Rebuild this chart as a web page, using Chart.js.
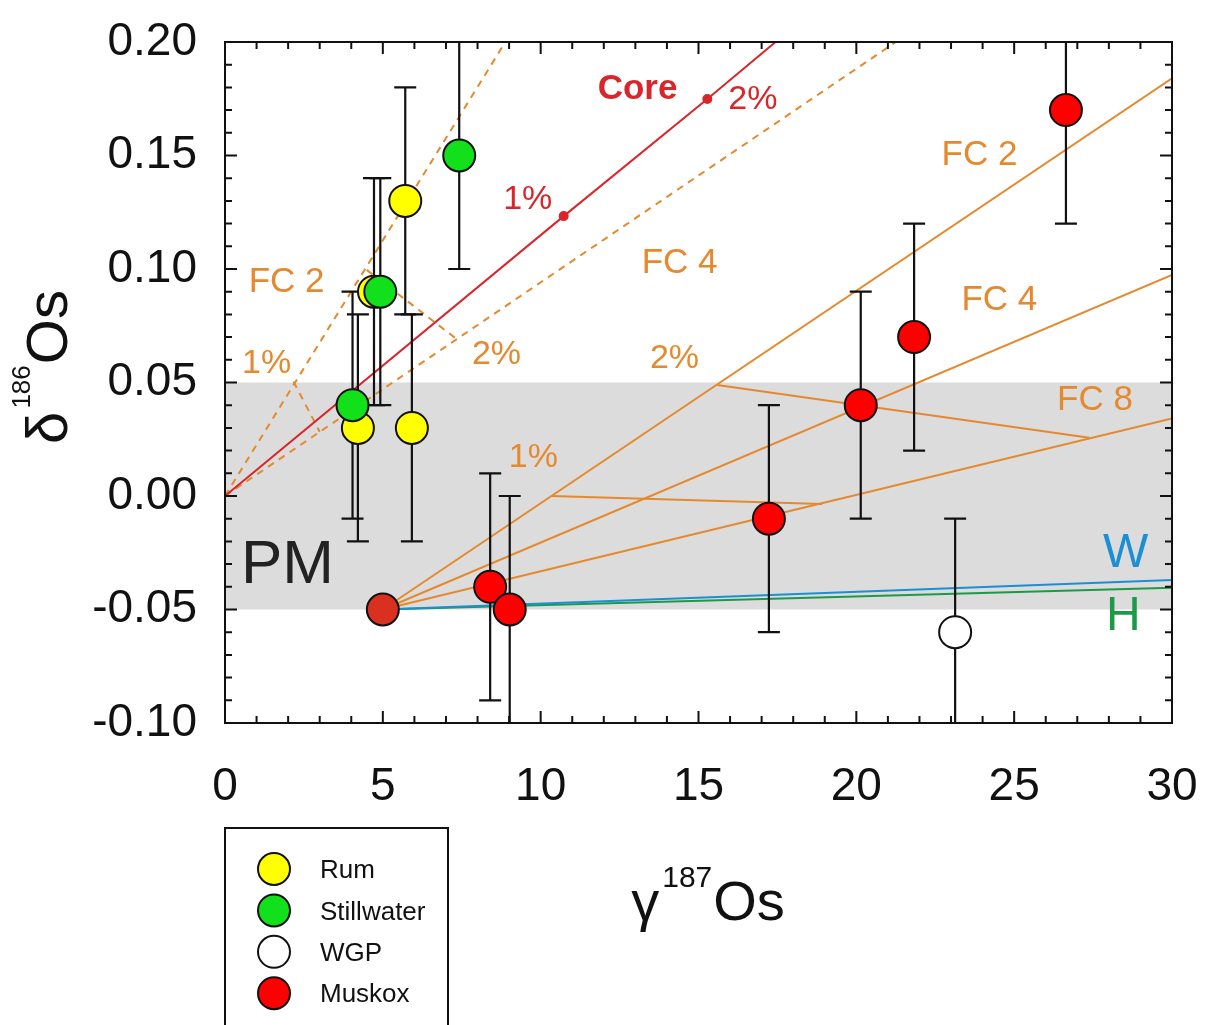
<!DOCTYPE html>
<html>
<head>
<meta charset="utf-8">
<script src="https://cdn.jsdelivr.net/npm/chart.js@4"></script>
<style>
  body { margin: 0; background: #fff; }
  canvas { display: block; }
</style>
</head>
<body>
<canvas id="osChart" width="1212" height="1025"></canvas>
<script>
// samples (gamma187Os, delta186Os), all with +-0.05 error bars
const rumX = [5.71, 5.92, 4.21, 4.72];
const rumY = [0.13, 0.03, 0.03, 0.09];
const rumErr = [0.05, 0.05, 0.05, 0.05];

const stillX = [4.04, 4.92, 7.42];
const stillY = [0.04, 0.09, 0.15];
const stillErr = [0.05, 0.05, 0.05];

const wgpX = [23.13];
const wgpY = [-0.06];
const wgpErr = [0.05];

const muskoxX = [8.40, 9.02, 17.23, 20.14, 21.83, 26.64];
const muskoxY = [-0.04, -0.05, -0.01, 0.04, 0.07, 0.17];
const muskoxErr = [0.05, 0.05, 0.05, 0.05, 0.05, 0.05];

const pmX = [5.0];
const pmY = [-0.05];

// mixing / model lines
const coreX = [0, 10.73, 15.28, 17.44];
const coreY = [0, 0.1233, 0.1749, 0.20];
const fc2DashX = [0, 8.88];
const fc2DashY = [0, 0.20];
const fc4DashX = [0, 21.25];
const fc4DashY = [0, 0.20];
const tie1DashX = [2.17, 3.0];
const tie1DashY = [0.0504, 0.0283];
const tie2DashX = [4.49, 7.35];
const tie2DashY = [0.0996, 0.069];

const fc2X = [5, 30];
const fc2Y = [-0.05, 0.184];
const fc4X = [5, 30];
const fc4Y = [-0.05, 0.0974];
const fc8X = [5, 30];
const fc8Y = [-0.05, 0.0342];
const tie2X = [15.59, 27.38];
const tie2Y = [0.0489, 0.0257];
const tie1X = [10.34, 18.92];
const tie1Y = [0.0, -0.0035];

const wX = [5, 30];
const wY = [-0.05, -0.037];
const hX = [5, 30];
const hY = [-0.05, -0.0404];

const pmBand = [-0.05, 0.05];

const xTicks = [0, 5, 10, 15, 20, 25, 30];
const yTicks = [-0.10, -0.05, 0.00, 0.05, 0.10, 0.15, 0.20];

const ORANGE = '#e5892e';
const RED = '#d8262a';
const FONT = '"Liberation Sans", Arial, sans-serif';

const pts = (xs, ys) => xs.map((v, i) => ({ x: v, y: ys[i] }));

function line(label, xs, ys, color, dash) {
  return {
    label: label,
    data: pts(xs, ys),
    showLine: true,
    borderColor: color,
    backgroundColor: color,
    borderWidth: 2,
    borderDash: dash ? [7, 6] : [],
    pointRadius: 0,
    fill: false,
    order: 10
  };
}

function points(label, xs, ys, errs, fill, order) {
  return {
    label: label,
    data: pts(xs, ys),
    errors: errs,
    backgroundColor: fill,
    borderColor: '#111',
    borderWidth: 2,
    pointRadius: 16,
    pointHoverRadius: 16,
    order: order
  };
}

const coreLine = line('Core', coreX, coreY, RED, false);
coreLine.pointRadius = [0, 4, 4, 0];

const datasets = [
  coreLine,
  line('FC 2 dashed', fc2DashX, fc2DashY, ORANGE, true),
  line('FC 4 dashed', fc4DashX, fc4DashY, ORANGE, true),
  line('1% dashed', tie1DashX, tie1DashY, ORANGE, true),
  line('2% dashed', tie2DashX, tie2DashY, ORANGE, true),
  line('FC 2', fc2X, fc2Y, ORANGE, false),
  line('FC 4', fc4X, fc4Y, ORANGE, false),
  line('FC 8', fc8X, fc8Y, ORANGE, false),
  line('2%', tie2X, tie2Y, ORANGE, false),
  line('1%', tie1X, tie1Y, ORANGE, false),
  line('W', wX, wY, '#1b8fd4', false),
  line('H', hX, hY, '#1c9a48', false),
  points('Rum', rumX, rumY, rumErr, '#ffff00', 5),
  points('Stillwater', stillX, stillY, stillErr, '#11e01a', 4),
  points('WGP', wgpX, wgpY, wgpErr, '#ffffff', 3),
  points('Muskox', muskoxX, muskoxY, muskoxErr, '#ff0000', 2),
  points('PM', pmX, pmY, null, '#d9301f', 1)
];
const legendNames = ['Rum', 'Stillwater', 'WGP', 'Muskox'];

// text labels inside the plot, in data units
const notes = [
  { t: 'Core', x: 13.07, y: 0.1793, c: RED, s: 35, b: true },
  { t: '1%', x: 9.59, y: 0.1306, c: RED, s: 34 },
  { t: '2%', x: 16.72, y: 0.1744, c: RED, s: 34 },
  { t: 'FC 2', x: 1.95, y: 0.0943, c: ORANGE, s: 35 },
  { t: '1%', x: 1.32, y: 0.0581, c: ORANGE, s: 34 },
  { t: '2%', x: 8.60, y: 0.0621, c: ORANGE, s: 34 },
  { t: 'FC 4', x: 14.40, y: 0.1026, c: ORANGE, s: 35 },
  { t: 'FC 2', x: 23.90, y: 0.1502, c: ORANGE, s: 35 },
  { t: 'FC 4', x: 24.53, y: 0.0863, c: ORANGE, s: 35 },
  { t: 'FC 8', x: 27.56, y: 0.0423, c: ORANGE, s: 35 },
  { t: '2%', x: 14.24, y: 0.0604, c: ORANGE, s: 34 },
  { t: '1%', x: 9.77, y: 0.0167, c: ORANGE, s: 34 },
  { t: 'W', x: 28.53, y: -0.0256, c: '#1b8fd4', s: 48 },
  { t: 'H', x: 28.46, y: -0.0533, c: '#1c9a48', s: 48 },
  { t: 'PM', x: 1.98, y: -0.0308, c: '#222', s: 62 }
];

// keep tick labels from pushing the plot box around
function noOverflow(s) {
  s.paddingTop = 0;
  s.paddingBottom = 0;
  s.paddingLeft = 0;
  s.paddingRight = 0;
}

const decor = {
  id: 'decor',
  beforeDatasetsDraw(chart) {
    const { ctx, chartArea: a, scales: { y } } = chart;
    const top = y.getPixelForValue(pmBand[1]);
    const bot = y.getPixelForValue(pmBand[0]);
    ctx.save();
    ctx.fillStyle = '#dcdcdc';
    ctx.fillRect(a.left, top, a.right - a.left, bot - top);
    ctx.restore();
  },
  beforeDatasetDraw(chart, args) {
    if (chart.data.datasets[args.index].label !== 'Rum') return;
    const { ctx, chartArea: a, scales: { x, y } } = chart;
    ctx.save();
    ctx.beginPath();
    ctx.rect(a.left, a.top, a.right - a.left, a.bottom - a.top);
    ctx.clip();
    ctx.strokeStyle = '#111';
    ctx.lineWidth = 2.2;
    chart.data.datasets.forEach(ds => {
      if (!ds.errors) return;
      ds.data.forEach((p, i) => {
        const e = ds.errors[i];
        const cx = x.getPixelForValue(p.x);
        const y1 = y.getPixelForValue(p.y + e);
        const y2 = y.getPixelForValue(p.y - e);
        ctx.beginPath();
        ctx.moveTo(cx, y1); ctx.lineTo(cx, y2);
        ctx.moveTo(cx - 11, y1); ctx.lineTo(cx + 11, y1);
        ctx.moveTo(cx - 11, y2); ctx.lineTo(cx + 11, y2);
        ctx.stroke();
      });
    });
    ctx.restore();
  },
  afterDatasetsDraw(chart) {
    const { ctx, chartArea: a, scales: { x, y } } = chart;
    ctx.save();
    ctx.strokeStyle = '#111';
    ctx.lineWidth = 2;
    ctx.strokeRect(a.left, a.top, a.right - a.left, a.bottom - a.top);
    ctx.beginPath();
    for (let i = 0; i <= 30; i++) {
      const px = x.getPixelForValue(i);
      const len = i % 5 === 0 ? 12 : 7;
      ctx.moveTo(px, a.bottom); ctx.lineTo(px, a.bottom - len);
      ctx.moveTo(px, a.top); ctx.lineTo(px, a.top + len);
    }
    for (let j = -10; j <= 20; j++) {
      const py = y.getPixelForValue(j / 100);
      const len = j % 5 === 0 ? 12 : 7;
      ctx.moveTo(a.left, py); ctx.lineTo(a.left + len, py);
      ctx.moveTo(a.right, py); ctx.lineTo(a.right - len, py);
    }
    ctx.stroke();
    ctx.restore();
  },
  afterDraw(chart) {
    const { ctx, scales: { x, y } } = chart;
    ctx.save();
    ctx.textAlign = 'center';
    ctx.textBaseline = 'middle';
    notes.forEach(n => {
      ctx.font = (n.b ? 'bold ' : '') + n.s + 'px ' + FONT;
      ctx.fillStyle = n.c;
      ctx.fillText(n.t, x.getPixelForValue(n.x), y.getPixelForValue(n.y));
    });

    // axis titles with superscripts
    ctx.fillStyle = '#111';
    ctx.textAlign = 'left';
    ctx.textBaseline = 'alphabetic';
    const big = '56px ' + FONT, sup = '30px ' + FONT;
    ctx.font = big; const wg = ctx.measureText('γ').width; const wo = ctx.measureText('Os').width;
    ctx.font = sup; const w7 = ctx.measureText('187').width;
    let sx = 708 - (wg + w7 + wo + 4) / 2;
    ctx.font = big; ctx.fillText('γ', sx, 920); sx += wg + 3;
    ctx.font = sup; ctx.fillText('187', sx, 887); sx += w7 + 1;
    ctx.font = big; ctx.fillText('Os', sx, 920);

    ctx.translate(67, 367);
    ctx.rotate(-Math.PI / 2);
    const bigY = '58px ' + FONT, supY = '26px ' + FONT;
    ctx.font = bigY; const wd = ctx.measureText('δ').width; const wo2 = ctx.measureText('Os').width;
    ctx.font = supY; const w6 = ctx.measureText('186').width;
    let sy = -(wd + w6 + wo2 + 4) / 2;
    ctx.font = bigY; ctx.fillText('δ', sy, 0); sy += wd + 3;
    ctx.font = supY; ctx.fillText('186', sy, -37); sy += w6 + 1;
    ctx.font = bigY; ctx.fillText('Os', sy, 0);
    ctx.setTransform(1, 0, 0, 1, 0, 0);

    // legend box
    ctx.strokeStyle = '#111';
    ctx.lineWidth = 2;
    ctx.strokeRect(225, 828, 223, 210);
    ctx.font = '26px ' + FONT;
    ctx.textBaseline = 'middle';
    legendNames.forEach((name, i) => {
      const ds = chart.data.datasets.find(d => d.label === name);
      const cy = 869 + i * 41.4;
      ctx.beginPath();
      ctx.arc(274, cy, 16, 0, Math.PI * 2);
      ctx.fillStyle = ds.backgroundColor;
      ctx.fill();
      ctx.stroke();
      ctx.fillStyle = '#111';
      ctx.fillText(name, 320, cy + 2);
    });
    ctx.restore();
  }
};

new Chart(document.getElementById('osChart').getContext('2d'), {
  type: 'scatter',
  data: { datasets: datasets },
  options: {
    responsive: false,
    devicePixelRatio: 1,
    animation: false,
    layout: { padding: { top: 42, right: 40, left: 0, bottom: 0 } },
    plugins: { legend: { display: false }, tooltip: { enabled: false } },
    scales: {
      x: {
        type: 'linear',
        min: 0,
        max: 30,
        afterBuildTicks: s => { s.ticks = xTicks.map(v => ({ value: v })); },
        afterFit: s => { s.height = 302; noOverflow(s); },
        grid: { display: false, drawTicks: false },
        border: { display: false },
        ticks: {
          font: { family: FONT, size: 46 },
          color: '#111',
          padding: 37,
          maxRotation: 0,
          callback: v => String(v)
        }
      },
      y: {
        type: 'linear',
        min: -0.10,
        max: 0.20,
        afterBuildTicks: s => { s.ticks = yTicks.map(v => ({ value: v })); },
        afterFit: s => { s.width = 225; noOverflow(s); },
        grid: { display: false, drawTicks: false },
        border: { display: false },
        ticks: {
          font: { family: FONT, size: 46 },
          color: '#111',
          padding: 28,
          callback: v => (Math.abs(v) < 1e-9 ? 0 : v).toFixed(2)
        }
      }
    }
  },
  plugins: [decor]
});
</script>
</body>
</html>
